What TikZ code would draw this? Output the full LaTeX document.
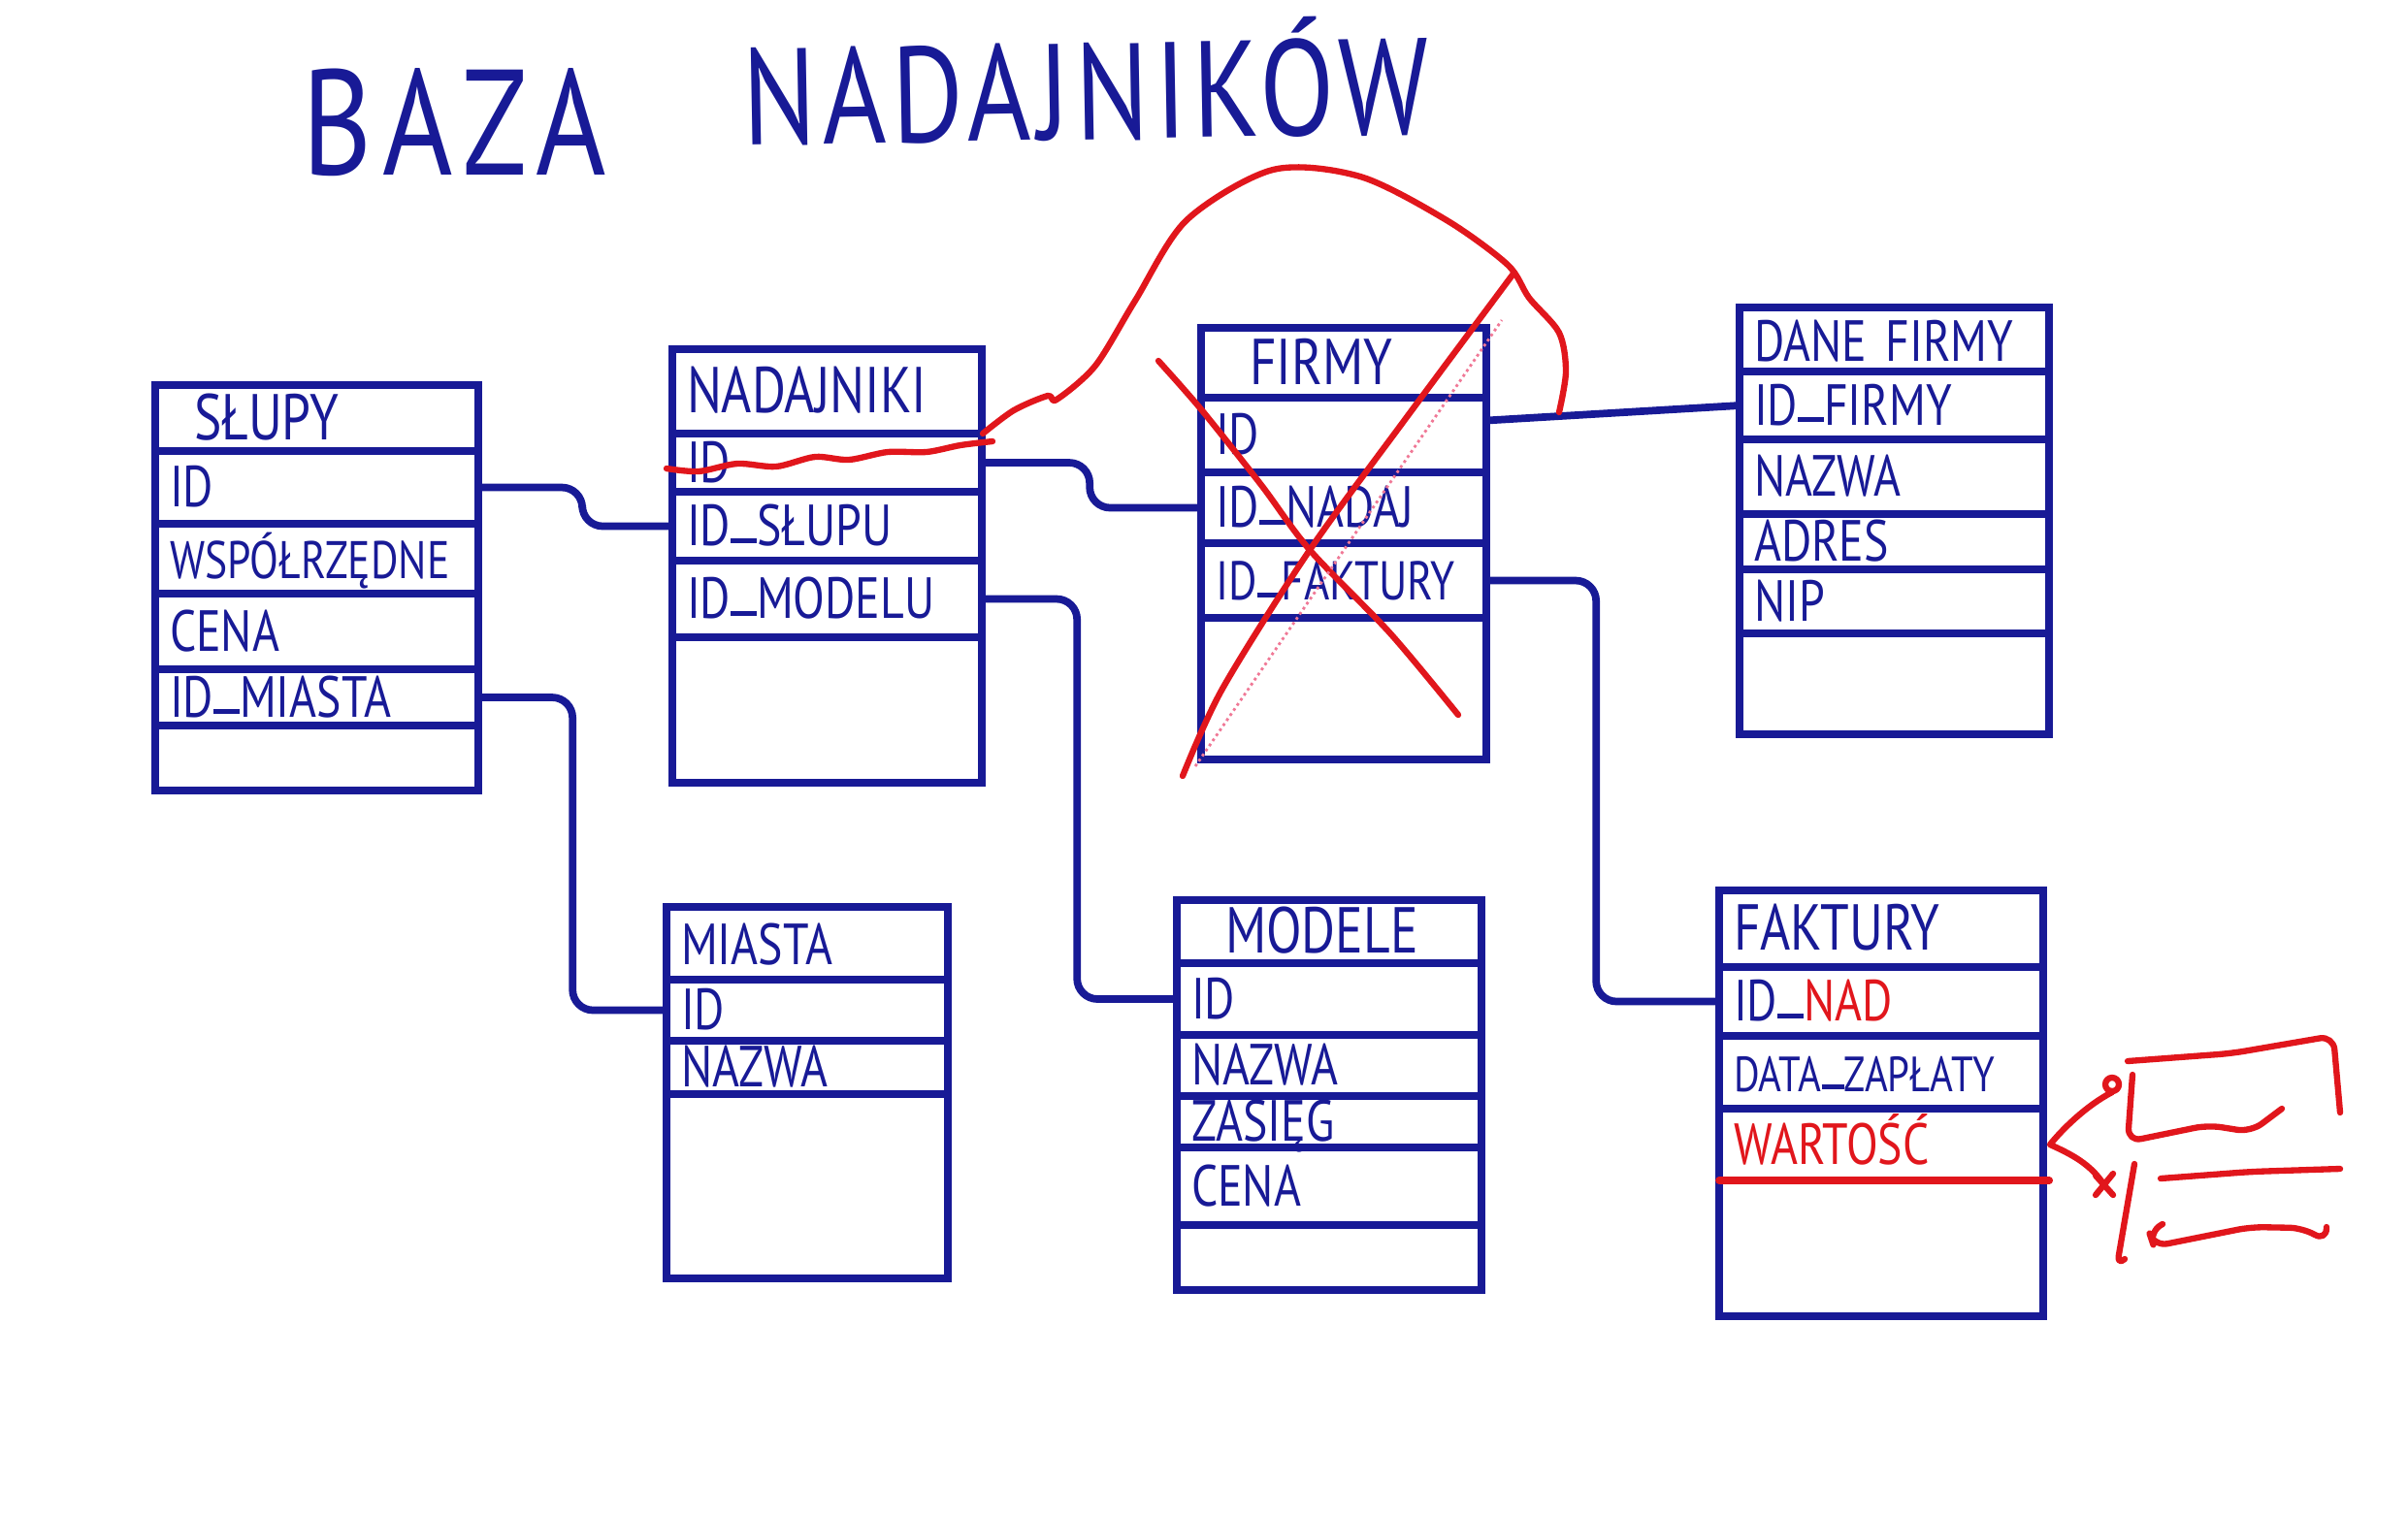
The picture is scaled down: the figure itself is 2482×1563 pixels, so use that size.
\documentclass[tikz,border=0pt]{standalone}
\usepackage{fontspec}
\newfontfamily\hand[FakeStretch=0.8]{PT Sans}
\newfontfamily\handwideA[FakeStretch=0.8,LetterSpace=7]{PT Sans}
\newfontfamily\handwideB[FakeStretch=0.8,LetterSpace=4.5]{PT Sans}
\newcommand\us{\rule[0.05em]{0.45em}{1.3pt}}
\usetikzlibrary{calc}
\definecolor{ink}{RGB}{24,26,150}
\definecolor{redpen}{RGB}{225,22,28}
\definecolor{pinkpen}{RGB}{240,120,150}
\tikzset{
  cell/.style={draw=ink, line width=2.2pt, rectangle, inner xsep=0.15cm, inner ysep=0pt, outer sep=0pt,
    anchor=north west, text=ink, align=left, text height=0.42cm, text depth=0.02cm,
    font=\hand\fontsize{17}{18}\selectfont},
  hdr/.style={cell, text height=0.46cm, font=\hand\fontsize{19}{20}\selectfont},
  conn/.style={draw=ink, line width=2.2pt, rounded corners=6pt, line join=round},
  redline/.style={draw=redpen, line width=1.8pt, line cap=round, line join=round},
  titletext/.style={text=ink, inner sep=0pt, anchor=base west},
}
\begin{document}
\begin{tikzpicture}[x=0.01cm,y=-0.01cm]
\fill[white] (0,0) rectangle (2482,1563);
\useasboundingbox (0,0) rectangle (2482,1563);

% title
\node[titletext, font=\handwideA\fontsize{44}{48}\selectfont] (t1) at (311,180) {BAZA};
\node[titletext, font=\handwideB\fontsize{40}{44}\selectfont, rotate=1] (t2) at (766,150) {NADAJNIKÓW};

% SŁUPY
\node[hdr, text width=3.03cm, minimum height=0.68cm] (slupy-h) at (160,397) {\hspace*{0.25cm}SŁUPY};
\node[cell, text width=3.03cm, minimum height=0.75cm] (slupy-id) at (160,465) {ID};
\node[cell, text width=3.03cm, minimum height=0.72cm, font=\hand\fontsize{15.5}{16}\selectfont] (slupy-wsp) at (160,540) {WSPÓŁRZĘDNE};
\node[cell, text width=3.03cm, minimum height=0.78cm] (slupy-cena) at (160,612) {CENA};
\node[cell, text width=3.03cm, minimum height=0.58cm] (slupy-miasta) at (160,690) {ID\us MIASTA};
\node[cell, text width=3.03cm, minimum height=0.67cm] (slupy-e) at (160,748) {};

% NADAJNIKI
\node[hdr, text width=2.89cm, minimum height=0.87cm] (nad-h) at (693,360) {NADAJNIKI};
\node[cell, text width=2.89cm, minimum height=0.60cm] (nad-id) at (693,447) {ID};
\node[cell, text width=2.89cm, minimum height=0.71cm] (nad-slupu) at (693,507) {ID\us SŁUPU};
\node[cell, text width=2.89cm, minimum height=0.79cm] (nad-model) at (693,578) {ID\us MODELU};
\node[cell, text width=2.89cm, minimum height=1.50cm] (nad-e) at (693,657) {};

% FIRMY
\node[hdr, text width=2.64cm, minimum height=0.72cm] (firmy-h) at (1238,338) {\hspace*{0.35cm}FIRMY};
\node[cell, text width=2.64cm, minimum height=0.77cm] (firmy-id) at (1238,410) {ID};
\node[cell, text width=2.64cm, minimum height=0.73cm] (firmy-nadaj) at (1238,487) {ID\us NADAJ};
\node[cell, text width=2.64cm, minimum height=0.77cm, font=\hand\fontsize{16}{17}\selectfont] (firmy-fakt) at (1238,560) {ID\us FAKTURY};
\node[cell, text width=2.64cm, minimum height=1.46cm] (firmy-e) at (1238,637) {};

% DANE FIRMY
\node[hdr, text width=2.89cm, minimum height=0.66cm, font=\hand\fontsize{17}{18}\selectfont] (dane-h) at (1793,317) {DANE FIRMY};
\node[cell, text width=2.89cm, minimum height=0.70cm] (dane-idf) at (1793,383) {ID\us FIRMY};
\node[cell, text width=2.89cm, minimum height=0.77cm] (dane-nazwa) at (1793,453) {NAZWA};
\node[cell, text width=2.89cm, minimum height=0.57cm] (dane-adres) at (1793,530) {ADRES};
\node[cell, text width=2.89cm, minimum height=0.66cm] (dane-nip) at (1793,587) {NIP};
\node[cell, text width=2.89cm, minimum height=1.04cm] (dane-e) at (1793,653) {};

% MIASTA
\node[hdr, text width=2.60cm, minimum height=0.75cm, font=\hand\fontsize{17}{18}\selectfont] (miasta-h) at (687,935) {MIASTA};
\node[cell, text width=2.60cm, minimum height=0.63cm] (miasta-id) at (687,1010) {ID};
\node[cell, text width=2.60cm, minimum height=0.55cm] (miasta-nazwa) at (687,1073) {NAZWA};
\node[cell, text width=2.60cm, minimum height=1.90cm] (miasta-e) at (687,1128) {};

% MODELE
\node[hdr, text width=2.84cm, minimum height=0.65cm] (modele-h) at (1213,928) {\hspace*{0.35cm}MODELE};
\node[cell, text width=2.84cm, minimum height=0.74cm] (modele-id) at (1213,993) {ID};
\node[cell, text width=2.84cm, minimum height=0.63cm] (modele-nazwa) at (1213,1067) {NAZWA};
\node[cell, text width=2.84cm, minimum height=0.53cm] (modele-zasieg) at (1213,1130) {ZASIĘG};
\node[cell, text width=2.84cm, minimum height=0.80cm] (modele-cena) at (1213,1183) {CENA};
\node[cell, text width=2.84cm, minimum height=0.67cm] (modele-e) at (1213,1263) {};

% FAKTURY
\node[hdr, text width=3.04cm, minimum height=0.79cm] (fakt-h) at (1772,918) {FAKTURY};
\node[cell, text width=3.04cm, minimum height=0.71cm] (fakt-nad) at (1772,997) {ID\us\textcolor{redpen}{NAD}};
\node[cell, text width=3.04cm, minimum height=0.75cm, font=\hand\fontsize{14.5}{15}\selectfont] (fakt-data) at (1772,1068) {DATA\us ZAPŁATY};
\node[cell, text width=3.04cm, minimum height=0.74cm, text=redpen] (fakt-wart) at (1772,1143) {WARTOŚĆ};
\node[cell, text width=3.04cm, minimum height=1.40cm] (fakt-e) at (1772,1217) {};

% connectors
\draw[conn] (slupy-id.east) -- ++(107,0) |- (nad-slupu.west);
\draw[conn] (slupy-miasta.east) -- ++(97,0) |- (miasta-id.west);
\draw[conn] (nad-id.east) -- ++(111,0) |- (firmy-nadaj.west);
\draw[conn] (nad-model.east) -- ++(98,0) |- (modele-id.west);
\draw[conn] ([yshift=0.15cm]firmy-id.east) -- (dane-idf.west);
\draw[conn] (firmy-fakt.east) -- ++(113,0) |- (fakt-nad.west);

% red corrections
\draw[redline] plot[smooth] coordinates {(687,483) (720,486) (760,478) (800,481) (840,471) (875,474) (915,466) (955,466) (990,459) (1023,455)};
\draw[redline] plot[smooth] coordinates {(1013,447) (1045,423) (1080,408) (1089,412) (1129,377) (1170,310) (1223,227) (1312,175) (1402,182) (1491,227) (1554,273) (1576,307) (1607,343) (1614,383) (1607,425)};
\draw[redline] plot[smooth] coordinates {(1194,372) (1238,422) (1300,500) (1350,567) (1433,653) (1503,737)};
\draw[redline] plot[smooth] coordinates {(1219,800) (1260,710) (1350,567) (1450,430) (1560,282)};
\draw[pinkpen, line width=0.8pt, densely dotted] (1232,790) -- (1548,330);
\draw[redline, line width=2.2pt] (fakt-wart.south west) -- ([xshift=0.06cm]fakt-wart.south east);

% red sketch right of FAKTURY
\draw[redline] (2177,1126) .. controls (2150,1140) and (2125,1165) .. (2113,1180) .. controls (2135,1190) and (2155,1200) .. (2169,1222);
\draw[redline] (2177,1118) circle[radius=0.07cm];
\draw[redline] (2160,1212) -- (2178,1232) (2178,1210) -- (2160,1232);
\draw[redline, rounded corners=4pt] (2193,1094) -- (2300,1086) -- (2405,1068) -- (2412,1147);
\draw[redline, rounded corners=4pt] (2198,1108) -- (2193,1177) -- (2276,1160) -- (2320,1167) -- (2352,1143);
\draw[redline, rounded corners=3pt] (2200,1200) -- (2182,1305) -- (2190,1298);
\draw[redline, rounded corners=4pt] (2227,1215) -- (2320,1208) -- (2412,1205);
\draw[redline, rounded corners=4pt] (2229,1262) -- (2215,1270) -- (2220,1285) -- (2320,1265) -- (2374,1266) -- (2398,1280) -- (2398,1265);
\end{tikzpicture}
\end{document}
